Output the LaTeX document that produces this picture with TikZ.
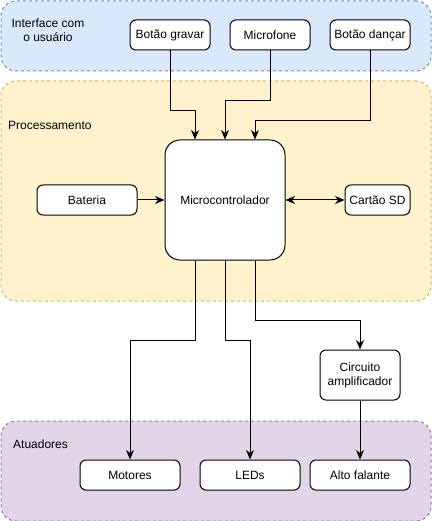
\documentclass[tikz,border=0pt]{standalone}
\usepackage{fontspec}
\setmainfont{Liberation Sans}
\usepackage{tikz}
\usetikzlibrary{shapes,arrows,arrows.meta,positioning,calc}
\definecolor{ifacefill}{HTML}{DAE8FC}
\definecolor{ifaceline}{HTML}{6C8EBF}
\definecolor{procfill}{HTML}{FFF2CC}
\definecolor{procline}{HTML}{D6B656}
\definecolor{atufill}{HTML}{E1D5E7}
\definecolor{atuline}{HTML}{9673A6}
\tikzset{
block/.style = {draw, fill=white, rectangle, rounded corners=6pt, line width=1pt, minimum height=30pt, minimum width=100pt, inner sep=2pt, align=center},
group/.style = {rectangle, rounded corners=15pt, line width=1pt, dash pattern=on 3pt off 3pt, minimum width=430pt, anchor=north west},
grouplabel/.style = {align=center, inner sep=0pt},
wire/.style = {->, line width=1pt}
}

\begin{document}
\begin{tikzpicture}[x=1pt, y=-1pt, node distance=100pt, >={Stealth[length=9.5pt,width=8pt,inset=3pt]}, font=\fontsize{12}{14}\selectfont]
						\useasboundingbox (0,0) rectangle (431,521);
						\node[group, draw=ifaceline, fill=ifacefill, minimum height=70pt] (iface) at (0.5,0.5) {};
						\node[group, draw=procline, fill=procfill, minimum height=220pt] (proc) at (0.5,80.5) {};
						\node[group, draw=atuline, fill=atufill, minimum height=100pt] (atu) at (0.5,420.5) {};
						\node[grouplabel] (ifacelabel) at (48,30) {Interface com\\o usuário};
						\node[grouplabel, anchor=west] (proclabel) at (8,125) {Processamento};
						\node[grouplabel, anchor=west] (atulabel) at (13,444) {Atuadores};
						\node[block, minimum width=80pt] (microfone) at (270,35) {Microfone};
						\node[block, minimum width=80pt, left of=microfone] (gravar) {Botão gravar};
						\node[block, minimum width=80pt, right of=microfone] (dancar) {Botão dançar};
						\node[block, rounded corners=15pt, minimum width=120pt, minimum height=120pt] (micro) at (225,200) {Microcontrolador};
						\node[block, left of=micro, node distance=138pt] (bateria) {Bateria};
						\node[block, minimum width=65pt, right of=micro, node distance=152.5pt] (cartao) {Cartão SD};
						\node[block] (motores) at (130,475) {Motores};
						\node[block, right of=motores, node distance=120pt] (leds) {LEDs};
						\node[block, right of=leds, node distance=110pt] (alto) {Alto falante};
						\node[block, minimum width=80pt, minimum height=50pt, above of=alto] (circ) {Circuito\\amplificador};
						\draw[wire] (gravar.south) -- ++(0,60) -| ([xshift=-30pt]micro.north);
						\draw[wire] (microfone.south) -- ++(0,50) -| (micro.north);
						\draw[wire] (dancar.south) -- ++(0,70) -| ([xshift=30pt]micro.north);
						\draw[wire] (bateria) -- (micro);
						\draw[wire, <->] (micro) -- (cartao);
						\draw[wire] ([xshift=-30pt]micro.south) -- ++(0,80) -| (motores.north);
						\draw[wire] (micro.south) -- ++(0,80) -| (leds.north);
						\draw[wire] ([xshift=30pt]micro.south) -- ++(0,60) -| (circ.north);
						\draw[wire] (circ) -- (alto);
					\end{tikzpicture}
\end{document}
